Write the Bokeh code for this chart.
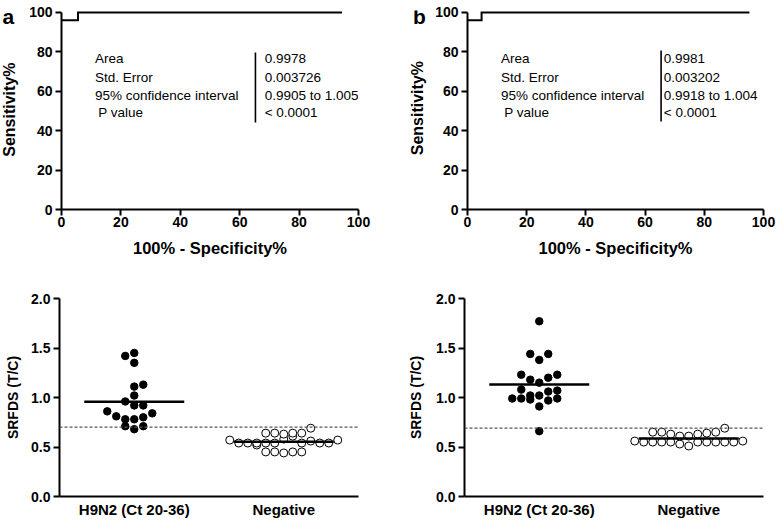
import numpy as np
from bokeh.plotting import figure
from bokeh.layouts import column, row
from bokeh.models import Range1d, FixedTicker, PrintfTickFormatter, Span
from bokeh.core.properties import value
from bokeh.embed import file_html
from bokeh.resources import INLINE

FONT = "Liberation Sans"

# ---------------- data ----------------
roc_ticks = [0, 20, 40, 60, 80, 100]
roc_a_fpr = [0.0, 5.56, 5.56, 94.44]
roc_a_sens = [96.0, 96.0, 100.0, 100.0]
roc_b_fpr = [0.0, 4.76, 4.76, 95.24]
roc_b_sens = [96.0, 96.0, 100.0, 100.0]
roc_stat_names = ["Area", "Std. Error", "95% confidence interval", "P value"]
roc_a_stats = ["0.9978", "0.003726", "0.9905 to 1.005", "< 0.0001"]
roc_b_stats = ["0.9981", "0.003202", "0.9918 to 1.004", "< 0.0001"]

groups = ["H9N2 (Ct 20-36)", "Negative"]
srfds_ticks = [0.0, 0.5, 1.0, 1.5, 2.0]
a_h9n2 = [0.68, 0.71, 0.71, 0.78, 0.78, 0.80, 0.81, 0.84, 0.86, 0.92, 0.96, 0.92,
          1.02, 1.11, 1.13, 1.35, 1.42, 1.45]
a_neg = [0.44, 0.45, 0.45, 0.45, 0.45, 0.52, 0.58, 0.54, 0.61, 0.54, 0.54, 0.54,
         0.56, 0.54, 0.54, 0.54, 0.54, 0.57, 0.57, 0.63, 0.64, 0.64, 0.64, 0.64, 0.69]
b_h9n2 = [0.66, 0.91, 0.98, 0.97, 0.99, 0.99, 0.99, 1.02, 1.02, 1.06, 1.08, 1.07,
          1.15, 1.18, 1.20, 1.23, 1.23, 1.38, 1.44, 1.44, 1.77]
b_neg = [0.51, 0.53, 0.55, 0.55, 0.55, 0.55, 0.55, 0.55, 0.55, 0.55, 0.55, 0.56, 0.56,
         0.61, 0.61, 0.63, 0.63, 0.64, 0.65, 0.65, 0.65, 0.69]
a_cutoff = 0.70
b_cutoff = 0.69

# ---------------- layout / style constants ----------------
TOP_H = 265
BOT_H = 256
SA = dict(w=22, lx=2.0, lm=8.5, ly=8.5, ylc=132)     # strip left of panel a
SB = dict(w=25, lx=7.5, lm=8.5, ly=11.5, ylc=130)    # strip left of panel b
LA = dict(w=383, h=TOP_H, l=39, r=47, t=10, b=56)
LB = dict(w=346, h=TOP_H, l=37, r=13, t=10, b=56)
LC = dict(w=390, h=BOT_H, l=59, r=32, t=33, b=25)
LD = dict(w=386, h=BOT_H, l=74, r=13, t=33, b=25)
STAT_Y = [76.5, 67.2, 58.0, 49.2]
STAT_LX = [11.3, 11.3, 11.3, 12.4]
SLOT_PX = 9.0
BIN_PX = 8.5
MEAN_HALF_PX = 50.0


def frame_size(L):
    return L['w'] - L['l'] - L['r'], L['h'] - L['t'] - L['b']


def make_fig(L, xr, yr):
    p = figure(width=L['w'], height=L['h'], x_range=Range1d(*xr), y_range=Range1d(*yr),
               output_backend="svg", toolbar_location=None,
               min_border_left=L['l'], min_border_right=L['r'],
               min_border_top=L['t'], min_border_bottom=L['b'])
    p.title.visible = False
    p.xgrid.visible = False
    p.ygrid.visible = False
    p.outline_line_color = None
    p.background_fill_color = "white"
    p.border_fill_color = "white"
    for ax in p.axis:
        ax.axis_line_width = 2
        ax.axis_line_color = "black"
        ax.major_tick_line_width = 2
        ax.major_tick_line_color = "black"
        ax.major_tick_out = 6
        ax.major_tick_in = 0
        ax.minor_tick_line_color = None
        ax.major_label_text_font = FONT
        ax.major_label_text_font_style = "bold"
        ax.major_label_text_font_size = "14px"
        ax.major_label_text_color = "black"
        ax.major_label_standoff = 3
        ax.axis_label_text_font = FONT
        ax.axis_label_text_font_style = "bold"
        ax.axis_label_text_color = "black"
    return p


def strip_fig(S, letter):
    p = figure(width=S['w'], height=TOP_H, x_range=Range1d(0, S['w']),
               y_range=Range1d(0, TOP_H), output_backend="svg", toolbar_location=None,
               x_axis_location=None, y_axis_location=None, min_border=0)
    p.title.visible = False
    p.xgrid.visible = False
    p.ygrid.visible = False
    p.outline_line_color = None
    p.background_fill_color = "white"
    p.border_fill_color = "white"
    p.text(x=[S['lx']], y=[TOP_H - S['lm']], text=[letter], text_font=value(FONT),
           text_font_size=value("21px"), text_font_style="bold",
           text_baseline="middle", text_align="left", text_color="black")
    p.text(x=[S['ly']], y=[TOP_H - S['ylc']], text=["Sensitivity%"], angle=np.pi / 2,
           text_font=value(FONT), text_font_size=value("16px"), text_font_style="bold",
           text_baseline="middle", text_align="center", text_color="black")
    return p


def roc_fig(L, fpr, sens, stats, val_x, sep_x, sep_y):
    p = make_fig(L, (0, 100), (0, 101))
    p.xaxis.ticker = FixedTicker(ticks=roc_ticks)
    p.yaxis.ticker = FixedTicker(ticks=roc_ticks)
    p.xaxis.bounds = (0, 100)
    p.yaxis.bounds = (0, 100)
    p.xaxis.major_label_standoff = 1
    p.xaxis.axis_label = "100% - Specificity%"
    p.xaxis.axis_label_text_font_size = "16.5px"
    p.xaxis.axis_label_standoff = 9
    p.line(fpr, sens, line_width=2, line_color="black", line_join="miter")
    p.text(x=STAT_LX, y=STAT_Y, text=roc_stat_names, text_font=value(FONT),
           text_font_size=value("13.5px"), text_baseline="middle", text_align="left",
           text_color="black")
    p.text(x=[val_x] * 4, y=STAT_Y, text=stats, text_font=value(FONT),
           text_font_size=value("13.5px"), text_baseline="middle", text_align="left",
           text_color="black")
    p.segment(x0=[sep_x], y0=[sep_y[0]], x1=[sep_x], y1=[sep_y[1]],
              line_width=1.6, line_color="black")
    return p


def swarm_slots(vals, bin_h):
    order = sorted(range(len(vals)), key=lambda i: vals[i])
    rows, cur, start = [], [], None
    for i in order:
        if cur and vals[i] < start + bin_h - 1e-9:
            cur.append(i)
        else:
            if cur:
                rows.append(cur)
            cur, start = [i], vals[i]
    rows.append(cur)
    slots = [0] * len(vals)
    even_count = 0
    for r in rows:
        r = sorted(r)
        if len(r) % 2 == 0:
            even_count += 1
            s = -1 if even_count % 2 == 1 else 1
        else:
            s = -1
        for k, i in enumerate(r):
            m = (k + 1) // 2
            slots[i] = 0 if k == 0 else (s * m if k % 2 == 1 else -s * m)
    return slots


def dot_fig(L, h9n2, neg, cutoff, ylab_standoff):
    fw, fh = frame_size(L)
    p = make_fig(L, (-0.5, 1.5), (0, 2.0))
    p.yaxis.ticker = FixedTicker(ticks=srfds_ticks)
    p.yaxis.formatter = PrintfTickFormatter(format="%.1f")
    p.xaxis.ticker = FixedTicker(ticks=[0, 1])
    p.xaxis.major_label_overrides = {0: groups[0], 1: groups[1]}
    p.xaxis.major_tick_out = 0
    p.xaxis.major_label_standoff = 4
    p.xaxis.major_label_text_font_size = "15px"
    p.yaxis.axis_label = "SRFDS (T/C)"
    p.yaxis.axis_label_text_font_size = "14px"
    p.yaxis.axis_label_standoff = ylab_standoff
    dx = SLOT_PX * 2.0 / fw
    bin_h = BIN_PX * 2.0 / fh
    half = MEAN_HALF_PX * 2.0 / fw
    p.add_layout(Span(location=cutoff, dimension="width", line_color="#555555",
                      line_dash="3 2", line_width=1.3))
    for gi, (vals, filled) in enumerate([(h9n2, True), (neg, False)]):
        slots = swarm_slots(vals, bin_h)
        xs = [gi + s * dx for s in slots]
        if filled:
            p.scatter(xs, vals, marker="circle", size=7.5, fill_color="black",
                      line_color="black", line_width=1)
        else:
            p.scatter(xs, vals, marker="circle", size=8, fill_color="white",
                      line_color="black", line_width=1)
    means = [float(np.mean(h9n2)), float(np.mean(neg))]
    p.segment(x0=[g - half for g in range(2)], y0=means,
              x1=[g + half for g in range(2)], y1=means,
              line_width=2.5, line_color="black")
    return p


sa = strip_fig(SA, "a")
sb = strip_fig(SB, "b")
pa = roc_fig(LA, roc_a_fpr, roc_a_sens, roc_a_stats, 68.4, 65.3, (44.2, 79.7))
pb = roc_fig(LB, roc_b_fpr, roc_b_sens, roc_b_stats, 66.3, 65.4, (44.7, 80.7))
pc = dot_fig(LC, a_h9n2, a_neg, a_cutoff, 7)
pd = dot_fig(LD, b_h9n2, b_neg, b_cutoff, 9)

layout = column(row(sa, pa, sb, pb), row(pc, pd))
open("out.html", "w").write(file_html(layout, INLINE))
